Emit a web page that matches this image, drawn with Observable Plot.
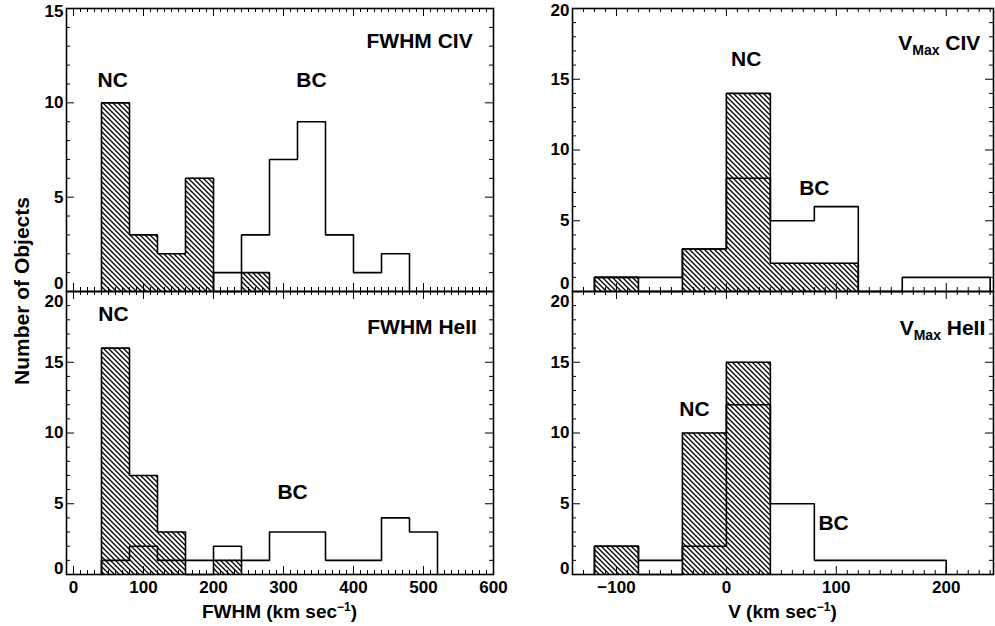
<!DOCTYPE html>
<html><head><meta charset="utf-8">
<script src="https://cdn.jsdelivr.net/npm/d3@7"></script>
<script src="https://cdn.jsdelivr.net/npm/@observablehq/plot@0.6"></script>
<style>
html,body{margin:0;padding:0;background:#fff;}
#chart{position:relative;width:995px;height:626px;overflow:hidden;background:#fff;}
#chart svg{position:absolute;left:0;top:0;}
</style></head><body><div id="chart"></div>
<script>
const FONT = '"Liberation Sans", Arial, Helvetica, sans-serif';

// Bin edges (km/s)
const fwhmEdges = [40, 80, 120, 160, 200, 240, 280, 320, 360, 400, 440, 480, 520];
const vEdges = [-120, -80, -40, 0, 40, 80, 120, 160, 200, 240];

// Counts per bin (narrow component NC hatched, broad component BC open)
const civFwhmNC  = [10, 3, 2, 6, 0, 1, 0, 0, 0, 0, 0, 0];
const civFwhmBC  = [0, 0, 0, 0, 1, 3, 7, 9, 3, 1, 2, 0];
const heiiFwhmNC = [16, 7, 3, 0, 1, 0, 0, 0, 0, 0, 0, 0];
const heiiFwhmBC = [1, 2, 1, 1, 2, 1, 3, 3, 1, 1, 4, 3];
const civVNC     = [1, 0, 3, 14, 2, 2, 0, 0, 0];
const civVBC     = [1, 1, 3, 8, 5, 6, 0, 1, 1];
const heiiVNC    = [2, 0, 10, 15, 0, 0, 0, 0, 0];
const heiiVBC    = [2, 1, 2, 12, 5, 1, 1, 1, 0];

// Tick labels
const fwhmTicks = [0, 100, 200, 300, 400, 500, 600];
const vTicks = [-100, 0, 100, 200];
const yTicks15 = [0, 5, 10, 15];
const yTicks20 = [0, 5, 10, 15, 20];

function stepPoints(edges, counts) {
  const first = counts.findIndex(c => c > 0);
  let last = counts.length - 1;
  while (last > 0 && counts[last] === 0) last--;
  const pts = [{x: edges[first], y: 0}];
  for (let i = first; i <= last; i++) pts.push({x: edges[i], y: counts[i]});
  pts.push({x: edges[last + 1], y: 0});
  return pts;
}

function richText(x, y, parts, anchor, rotate) {
  const t = d3.create("svg:text")
    .attr("x", x).attr("y", y)
    .attr("text-anchor", anchor)
    .attr("font-family", FONT).attr("font-weight", "bold").attr("fill", "black");
  if (rotate) t.attr("transform", `rotate(${rotate},${x},${y})`);
  for (const p of parts) t.append("tspan").attr("font-size", p.size).attr("dy", p.dy || 0).text(p.text);
  return t.node();
}

const fmt = d => d < 0 ? "\u2212" + Math.abs(d) : String(d);

function panel(o) {
  const W = 995, H = 626;
  const ph = o.bottom - o.top, pw = o.right - o.left;
  const id = "hatch-" + o.id;
  const nc = stepPoints(o.edges, o.nc), bc = stepPoints(o.edges, o.bc);
  const xMinor = d3.range(o.xMinor[0], o.xMinor[1] + 1e-9, o.xMinor[2]).filter(v => !o.xTicks.includes(v));
  const yMax = o.yDomain[1];
  const yMinor = d3.range(0, yMax + 1e-9, 1).filter(v => !o.yTicks.includes(v));
  const tickStyle = {stroke: "black", strokeWidth: 1};
  const txt = {fontFamily: FONT, fontWeight: "bold", fill: "black"};
  const midY = o.yTicks.filter(v => v !== 0 && v !== yMax);
  const marks = [
    () => {
      const defs = d3.create("svg:defs");
      const p = defs.append("pattern").attr("id", id).attr("patternUnits", "userSpaceOnUse")
        .attr("width", 5).attr("height", 5);
      p.append("path").attr("d", "M-1,-1 L6,6 M-1,4 L1,6 M4,-1 L6,1")
        .attr("stroke", "black").attr("stroke-width", 1.3);
      return defs.node();
    },
    Plot.areaY(nc, {x: "x", y: "y", curve: "step-after", fill: `url(#${id})`}),
    Plot.lineY(nc, {x: "x", y: "y", curve: "step-after", stroke: "black", strokeWidth: 1.6, strokeLinejoin: "miter"}),
    Plot.lineY(bc, {x: "x", y: "y", curve: "step-after", stroke: "black", strokeWidth: 1.6, strokeLinejoin: "miter"}),
    Plot.tickX(xMinor, {x: d => d, insetTop: ph - 4, ...tickStyle}),
    Plot.tickX(xMinor, {x: d => d, insetBottom: ph - 4, ...tickStyle}),
    Plot.tickX(o.xTicks, {x: d => d, insetTop: ph - 8, ...tickStyle}),
    Plot.tickX(o.xTicks, {x: d => d, insetBottom: ph - 8, ...tickStyle}),
    Plot.tickY(yMinor, {y: d => d, insetRight: pw - 4, ...tickStyle}),
    Plot.tickY(yMinor, {y: d => d, insetLeft: pw - 4, ...tickStyle}),
    Plot.tickY(o.yTicks, {y: d => d, insetRight: pw - 8, ...tickStyle}),
    Plot.tickY(o.yTicks, {y: d => d, insetLeft: pw - 8, ...tickStyle}),
    Plot.frame({stroke: "black", strokeWidth: 1.6}),
    // y tick labels
    Plot.text(midY, {y: d => d, frameAnchor: "left", textAnchor: "end", dx: -3, text: fmt, fontSize: 17, ...txt}),
    Plot.text([0], {y: d => d, frameAnchor: "left", textAnchor: "end", dx: -3, dy: o.zeroDy, text: fmt, fontSize: 17, ...txt}),
    Plot.text([yMax], {y: d => d, frameAnchor: "left", textAnchor: "end", dx: -3, dy: o.topDy, text: fmt, fontSize: 17, ...txt}),
    // component labels
    Plot.text(["NC"], {x: o.ncPos[0], y: o.ncPos[1], text: d => d, fontSize: 21, ...txt}),
    Plot.text(["BC"], {x: o.bcPos[0], y: o.bcPos[1], text: d => d, fontSize: 21, ...txt}),
    (i, s) => richText(s.x(o.titlePos[0]), s.y(o.titlePos[1]), o.title, "end")
  ];
  if (o.xLabels) {
    marks.push(Plot.text(o.xTicks, {x: d => d, frameAnchor: "bottom", dy: 18, text: fmt, fontSize: 17, ...txt}));
    marks.push((i, s, v, dim) => richText((dim.marginLeft + dim.width - dim.marginRight) / 2, dim.height - dim.marginBottom + 44, o.xLabel, "middle"));
  }
  if (o.yTitle) {
    marks.push((i, s, v, dim) => richText(dim.marginLeft - 37, dim.height - dim.marginBottom, [{text: "Number of Objects", size: 21}], "middle", -90));
  }
  return Plot.plot({
    width: W, height: H,
    marginLeft: o.left, marginRight: W - o.right, marginTop: o.top, marginBottom: H - o.bottom,
    style: {background: "none", overflow: "visible"},
    x: {type: "linear", domain: o.xDomain, axis: null},
    y: {type: "linear", domain: o.yDomain, axis: null},
    marks
  });
}

const fwhmLabel = [{text: "FWHM (km sec", size: 19}, {text: "\u22121", size: 12, dy: -7}, {text: ")", size: 19, dy: 7}];
const vLabel = [{text: "V (km sec", size: 19}, {text: "\u22121", size: 12, dy: -7}, {text: ")", size: 19, dy: 7}];

const chart = document.getElementById("chart");
const panels = [
  {id: "tl", left: 66, right: 493, top: 8, bottom: 291, xDomain: [-10, 600], yDomain: [0, 15],
   edges: fwhmEdges, nc: civFwhmNC, bc: civFwhmBC, xTicks: fwhmTicks, xMinor: [0, 600, 10], yTicks: yTicks15,
   zeroDy: -8, topDy: 3, ncPos: [56, 11.2], bcPos: [340, 11.2], titlePos: [571, 12.9],
   title: [{text: "FWHM CIV", size: 21}], yTitle: true},
  {id: "bl", left: 66, right: 493, top: 291, bottom: 574, xDomain: [-10, 600], yDomain: [0, 20],
   edges: fwhmEdges, nc: heiiFwhmNC, bc: heiiFwhmBC, xTicks: fwhmTicks, xMinor: [0, 600, 10], yTicks: yTicks20,
   zeroDy: -6, topDy: 10, ncPos: [57, 18.4], bcPos: [313, 5.8], titlePos: [577, 16.95],
   title: [{text: "FWHM HeII", size: 21}], xLabels: true, xLabel: fwhmLabel},
  {id: "tr", left: 572, right: 993, top: 8, bottom: 291, xDomain: [-140, 243], yDomain: [0, 20],
   edges: vEdges, nc: civVNC, bc: civVBC, xTicks: vTicks, xMinor: [-140, 240, 10], yTicks: yTicks20,
   zeroDy: -8, topDy: 2, ncPos: [18, 16.4], bcPos: [80, 7.3], titlePos: [231.5, 17.06],
   title: [{text: "V", size: 21}, {text: "Max", size: 14, dy: 5}, {text: " CIV", size: 21, dy: -5}]},
  {id: "br", left: 572, right: 993, top: 291, bottom: 574, xDomain: [-140, 243], yDomain: [0, 20],
   edges: vEdges, nc: heiiVNC, bc: heiiVBC, xTicks: vTicks, xMinor: [-140, 240, 10], yTicks: yTicks20,
   zeroDy: -6, topDy: 10, ncPos: [-29, 11.7], bcPos: [97.5, 3.6], titlePos: [236, 16.9],
   title: [{text: "V", size: 21}, {text: "Max", size: 14, dy: 5}, {text: " HeII", size: 21, dy: -5}],
   xLabels: true, xLabel: vLabel}
];
for (const p of panels) chart.appendChild(panel(p));
</script>
</body></html>
